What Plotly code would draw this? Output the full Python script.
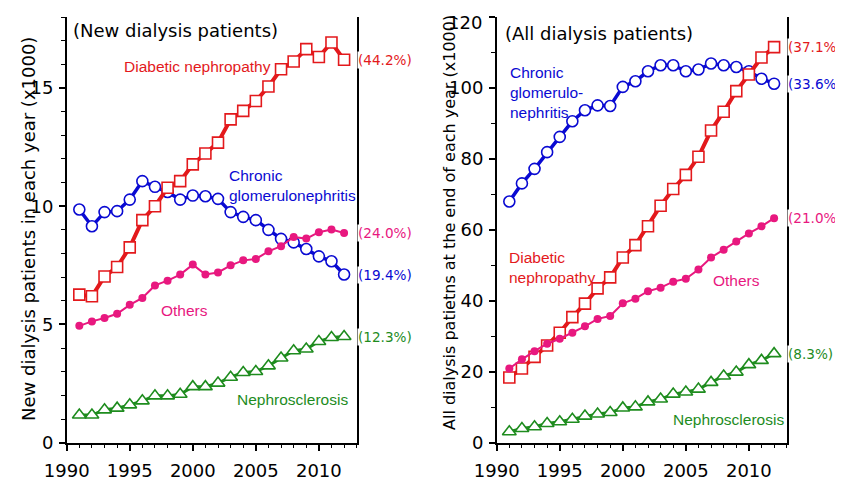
import plotly.graph_objects as go

# The page body has an 8px default margin, so the figure is drawn 8px in from the corner.
OFF = 8
W, H = 843 - OFF, 481 - OFF

years = list(range(1991, 2013))

# New dialysis patients (x1000)
new_diabetic = [6.26, 6.19, 7.03, 7.43, 8.26, 9.41, 10.0, 10.78, 11.06, 11.77, 12.23,
                12.69, 13.67, 14.03, 14.45, 15.06, 15.79, 16.12, 16.64, 16.31, 16.92, 16.19]
new_cgn = [9.86, 9.15, 9.75, 9.79, 10.28, 11.06, 10.82, 10.6, 10.28, 10.45, 10.42,
           10.31, 9.75, 9.55, 9.41, 9.0, 8.62, 8.47, 8.19, 7.88, 7.67, 7.11]
new_others = [4.94, 5.13, 5.27, 5.45, 5.83, 6.12, 6.65, 6.85, 7.11, 7.53, 7.11,
              7.2, 7.5, 7.71, 7.77, 8.09, 8.31, 8.70, 8.63, 8.90, 9.01, 8.87]
new_nephro = [1.17, 1.17, 1.39, 1.46, 1.6, 1.77, 1.98, 1.98, 2.05, 2.37, 2.37,
              2.52, 2.77, 2.97, 3.01, 3.25, 3.58, 3.89, 3.96, 4.28, 4.45, 4.49]

# All dialysis patients (x1000)
all_cgn = [68.0, 73.1, 77.2, 81.9, 86.2, 90.6, 93.7, 95.1, 94.9, 100.3, 101.9,
           104.7, 106.4, 106.4, 104.7, 105.2, 106.9, 106.4, 105.9, 104.7, 102.6, 101.2]
all_diabetic = [18.4, 20.9, 24.2, 27.4, 31.0, 35.4, 39.2, 43.5, 46.6, 52.2, 55.7,
                61.0, 66.8, 71.5, 75.5, 80.6, 88.0, 93.3, 99.1, 103.8, 108.6, 111.5]
all_others = [20.9, 23.5, 25.8, 27.9, 29.3, 31.0, 32.8, 34.9, 35.7, 39.3, 40.6,
              42.7, 43.7, 45.4, 46.2, 48.8, 52.2, 54.4, 56.7, 59.0, 61.0, 63.3]
all_nephro = [3.1, 4.0, 4.5, 5.4, 5.9, 6.6, 7.5, 8.1, 8.5, 9.8, 10.1,
              11.5, 12.3, 13.7, 14.3, 15.1, 17.0, 18.8, 19.9, 22.0, 23.2, 25.1]

new_pct = {"diabetic": "(44.2%)", "cgn": "(19.4%)", "others": "(24.0%)", "nephro": "(12.3%)"}
all_pct = {"diabetic": "(37.1%)", "cgn": "(33.6%)", "others": "(21.0%)", "nephro": "(8.3%)"}

x_ticks = [1990, 1995, 2000, 2005, 2010]
y1_ticks = [0, 5, 10, 15]
y2_ticks = [0, 20, 40, 60, 80, 100, 120]

RED = "#e3191c"
BLUE = "#0a0ad2"
PINK = "#e8187f"
GREEN = "#1e8c1e"

TICKFONT = "DejaVu Sans"
NARROW = "Liberation Sans Narrow, Arial Narrow, Liberation Sans, Arial"


def px(x, y):
    """Screen pixel (in the 843x481 window) -> paper coordinates."""
    return (x - OFF) / W, 1 - (y - OFF) / H


fig = go.Figure()

styles = {
    "diabetic": dict(color=RED, symbol="square-open", size=11, lw=4),
    "cgn": dict(color=BLUE, symbol="circle-open", size=11, lw=3.5),
    "others": dict(color=PINK, symbol="circle", size=8, lw=2),
    "nephro": dict(color=GREEN, symbol="triangle-up-open", size=12, lw=3),
}

panels = [
    ("x", "y", {"diabetic": new_diabetic, "cgn": new_cgn, "others": new_others, "nephro": new_nephro}, new_pct),
    ("x2", "y2", {"diabetic": all_diabetic, "cgn": all_cgn, "others": all_others, "nephro": all_nephro}, all_pct),
]

annotations = []
for xa, ya, series, pct in panels:
    for key in ["nephro", "cgn", "diabetic", "others"]:
        st = styles[key]
        vals = series[key]
        if st["symbol"] == "circle":
            marker = dict(symbol="circle", size=st["size"], color=st["color"], line=dict(width=0))
        else:
            marker = dict(symbol=st["symbol"].replace("-open", ""), size=st["size"], color="white",
                          line=dict(width=1.6, color=st["color"]))
        fig.add_trace(go.Scatter(x=years, y=vals, xaxis=xa, yaxis=ya, mode="lines+markers",
                                 line=dict(color=st["color"], width=st["lw"]),
                                 marker=marker, showlegend=False, hoverinfo="skip"))
        annotations.append(dict(x=2013, y=vals[-1], xref=xa, yref=ya, text=pct[key],
                                xanchor="left", yanchor="middle", showarrow=False,
                                bgcolor="white", borderpad=0, xshift=0,
                                font=dict(family=TICKFONT, size=13.6, color=st["color"])))


def label(xp, yp, text, color, size=15.5, family=NARROW, anchor="left"):
    x, y = px(xp, yp)
    annotations.append(dict(x=x, y=y, xref="paper", yref="paper", text=text, showarrow=False,
                            xanchor=anchor, yanchor="middle", align="left",
                            font=dict(family=family, size=size, color=color)))


# Left panel texts
label(71, 31, "(New dialysis patients)", "black", size=18, family=TICKFONT)
label(122, 67, "Diabetic nephropathy", RED)
label(227, 185, "Chronic<br>glomerulonephritis", BLUE)
label(159, 310, "Others", PINK)
label(235, 399, "Nephrosclerosis", GREEN)

# Right panel texts
label(503, 33, "(All dialysis patients)", "black", size=18, family=TICKFONT)
label(508, 92, "Chronic<br>glomerulo-<br>nephritis", BLUE)
label(507, 267, "Diabetic<br>nephropathy", RED)
label(711, 280, "Others", PINK)
label(671, 419, "Nephrosclerosis", GREEN)

# top tick label of the right axis sits slightly below its tick (as in the reference)
label(484, 22, str(y2_ticks[-1]), "black", size=18, family=TICKFONT, anchor="right")

# Y axis titles
for xp, yp, text, sz in [(29, 229, "New dialysis patients in each year (x1000)", 18),
                         (449, 223, "All dialysis patietns at the end of each year (x1000)", 16)]:
    x, y = px(xp, yp)
    annotations.append(dict(x=x, y=y, xref="paper", yref="paper", text=text, showarrow=False,
                            textangle=-90, xanchor="center", yanchor="middle",
                            font=dict(family=TICKFONT, size=sz, color="black")))

left_x0, _ = px(66.7, 0)
left_x1, _ = px(356.7, 0)
right_x0, _ = px(496.7, 0)
right_x1, _ = px(786.7, 0)
_, y_top = px(0, 17)
_, y_bot = px(0, 442.7)

xcommon = dict(range=[1990, 2013], tickvals=x_ticks, ticktext=[str(t) for t in x_ticks],
               showline=True, linecolor="black", linewidth=1.5, mirror=False,
               ticks="outside", ticklen=7, tickwidth=1.5, tickcolor="black",
               tickfont=dict(family=TICKFONT, size=18, color="black"),
               showgrid=False, zeroline=False, ticklabelstandoff=4, automargin=False,
               ticklabeloverflow="allow",
               minor=dict(dtick=1, tick0=1990, ticks="outside", ticklen=4, tickwidth=1, tickcolor="black",
                          showgrid=False))
ycommon = dict(showline=True, linecolor="black", linewidth=1.5, mirror=True,
               ticks="outside", ticklen=6, tickwidth=1.5, tickcolor="black",
               tickfont=dict(family=TICKFONT, size=18, color="black"),
               showgrid=False, zeroline=False, automargin=False, ticklabelstandoff=2,
               ticklabeloverflow="allow")

fig.update_layout(
    width=W, height=H,
    margin=dict(l=0, r=0, t=0, b=0, autoexpand=False),
    paper_bgcolor="white", plot_bgcolor="white",
    xaxis=dict(domain=[left_x0, left_x1], anchor="y", **xcommon),
    xaxis2=dict(domain=[right_x0, right_x1], anchor="y2", **xcommon),
    yaxis=dict(domain=[y_bot, y_top], anchor="x", range=[0, 18], tickvals=y1_ticks,
               ticktext=[str(t) for t in y1_ticks],
               minor=dict(dtick=1, tick0=0, ticks="outside", ticklen=4, tickwidth=1, tickcolor="black", showgrid=False),
               **ycommon),
    yaxis2=dict(domain=[y_bot, y_top], anchor="x2", range=[0, 120], tickvals=y2_ticks,
                ticktext=[str(t) for t in y2_ticks[:-1]] + [""],
                minor=dict(dtick=10, tick0=0, ticks="outside", ticklen=4, tickwidth=1, tickcolor="black", showgrid=False),
                **ycommon),
    annotations=annotations,
)

fig.write_html("out.html")
